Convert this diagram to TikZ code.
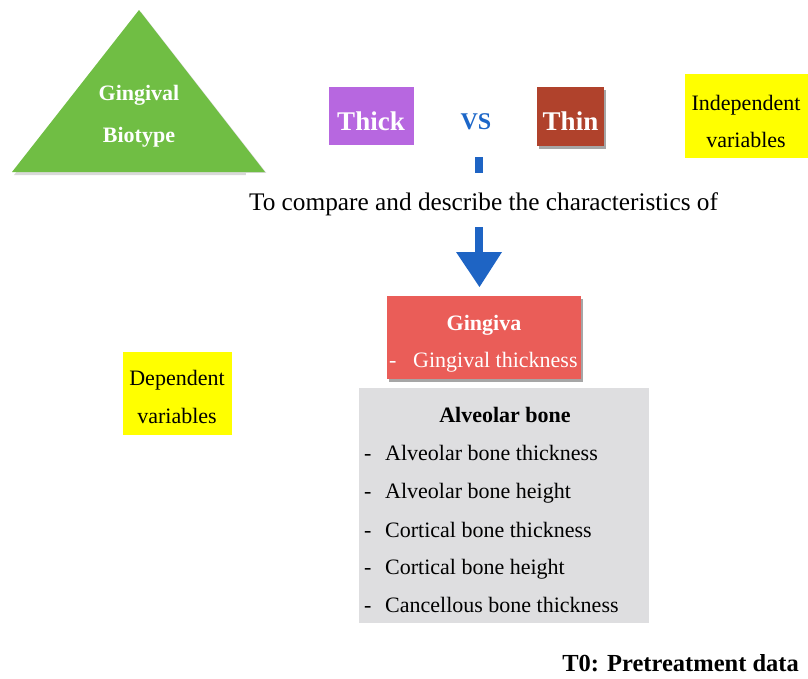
\documentclass[tikz,border=0pt]{standalone}
\usepackage{fontspec}
\setmainfont{Liberation Serif}
\usetikzlibrary{shadows,arrows.meta}
\definecolor{tgreen}{RGB}{112,190,68}
\definecolor{tpurple}{RGB}{183,103,224}
\definecolor{tthin}{RGB}{176,66,44}
\definecolor{tvs}{RGB}{28,102,200}
\definecolor{tred}{RGB}{234,93,88}
\definecolor{tgray}{RGB}{222,222,224}
\definecolor{tyellow}{RGB}{255,255,0}
\definecolor{tarrow}{RGB}{30,100,196}
\tikzset{
  fs/.style={font=\fontsize{#1}{#1}\selectfont},
  wbold/.style={text=white,font=\fontsize{#1}{#1}\selectfont\bfseries,anchor=base,inner sep=0pt},
  btxt/.style={text=black,font=\fontsize{22}{22}\selectfont,anchor=base west,inner sep=0pt},
  boxshadow/.style={drop shadow={shadow xshift=2pt,shadow yshift=-3pt,fill=black,opacity=0.35}},
}
\begin{document}
\begin{tikzpicture}[x=1pt,y=-1pt]
\useasboundingbox (0,0) rectangle (808,678);
% triangle
\fill[black,opacity=0.15] (141,12) -- (268,175) -- (14,175) -- cycle;
\fill[tgreen] (139,10) coordinate (apex) -- (265,172) -- (12,172) -- cycle;
\node[wbold=22] (gt1) at (139,100) {Gingival};
\node[wbold=22] (gt2) at (139,142) {Biotype};
% thick / vs / thin
\node[fill=tpurple,minimum width=85pt,minimum height=58pt,inner sep=0pt] (thick) at (371,116) {};
\node[wbold=27] (thickt) at (371,130) {Thick};
\node[text=tvs,font=\fontsize{24}{24}\selectfont\bfseries,anchor=base,inner sep=0pt] (vs) at (476,129) {VS};
\node[fill=tthin,minimum width=67pt,minimum height=59pt,inner sep=0pt,boxshadow] (thin) at (570.5,116.5) {};
\node[wbold=27] (thint) at (570.5,130) {Thin};
% independent variables
\node[fill=tyellow,minimum width=123pt,minimum height=84pt,inner sep=0pt] (indep) at (746.5,116) {};
\node[text=black,fs=22,anchor=base,inner sep=0pt] at (746,110) {Independent};
\node[text=black,fs=22,anchor=base,inner sep=0pt] at (746,147) {variables};
% arrow
\fill[tarrow] (475,157) rectangle (483,254);
\fill[tarrow] (456,252) -- (502,252) -- (479.5,287) -- cycle;
\node[fill=white,inner sep=0pt,minimum width=475pt,minimum height=54pt] (cmpbg) at (483.5,200) {};
\node[text=black,fs=25.3,anchor=base,inner sep=0pt] (cmp) at (483.5,210) {To compare and describe the characteristics of};
% gingiva
\node[fill=tred,minimum width=194pt,minimum height=83pt,inner sep=0pt,boxshadow] (ging) at (484,337.5) {};
\node[wbold=22] at (484,330) {Gingiva};
\node[text=white,fs=22,anchor=base west,inner sep=0pt] at (389,367) {-};
\node[text=white,fs=22,anchor=base west,inner sep=0pt] at (413,367) {Gingival thickness};
% alveolar box
\node[fill=tgray,minimum width=290pt,minimum height=235pt,inner sep=0pt] (alv) at (504,505.5) {};
\node[text=black,font=\fontsize{22}{22}\selectfont\bfseries,anchor=base,inner sep=0pt] at (505,422) {Alveolar bone};
\foreach \yy/\tt in {460/Alveolar bone thickness,498/Alveolar bone height,537/Cortical bone thickness,574/Cortical bone height,612/Cancellous bone thickness}{
  \node[btxt] at (364,\yy) {-};
  \node[btxt] at (385,\yy) {\tt};
}
% dependent variables
\node[fill=tyellow,minimum width=109pt,minimum height=83pt,inner sep=0pt] (dep) at (177.5,393.5) {};
\node[text=black,fs=22,anchor=base,inner sep=0pt] at (177,385) {Dependent};
\node[text=black,fs=22,anchor=base,inner sep=0pt] at (177,423) {variables};
% T0
\node[text=black,font=\fontsize{24.5}{24.5}\selectfont\bfseries,anchor=base east,inner sep=0pt] (t0) at (799,671) {T0: Pretreatment data};
\end{tikzpicture}
\end{document}
